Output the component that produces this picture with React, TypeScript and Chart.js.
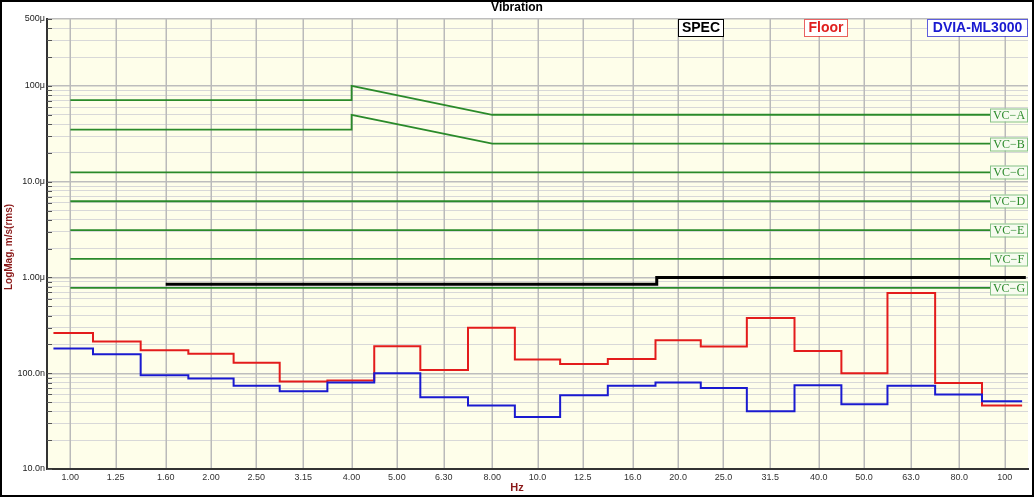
import { useEffect, useRef } from "react"
import { Chart, registerables, type Plugin } from "chart.js"

Chart.register(...registerables)

// 1/3 octave band centres (nominal) and their axis labels
const bandHz = [1, 1.25, 1.6, 2, 2.5, 3.15, 4, 5, 6.3, 8, 10, 12.5, 16, 20, 25, 31.5, 40, 50, 63, 80, 100]
const bandLabels = [
  "1.00", "1.25", "1.60", "2.00", "2.50", "3.15", "4.00", "5.00", "6.30", "8.00",
  "10.0", "12.5", "16.0", "20.0", "25.0", "31.5", "40.0", "50.0", "63.0", "80.0", "100",
]

// measured spectra, nm/s rms per band
const floorNm = [263, 214, 174, 160, 129, 82, 84, 191, 108, 299, 139, 125, 141, 221, 190, 378, 171, 100, 689, 79, 46]
const dviaNm = [181, 158, 95, 88, 74, 65, 80, 100, 56, 46, 35, 59, 74, 80, 70, 40, 75, 47.5, 74, 60, 51]
const traceStartHz = 0.92
const traceEndHz = 109

// SPEC limit, µm/s
const specHz = [1.6, 18, 111]
const specUm = [0.85, 1.0, 1.0]

// VC criteria curves, µm/s
const vcLabels = ["VC\u2212A", "VC\u2212B", "VC\u2212C", "VC\u2212D", "VC\u2212E", "VC\u2212F", "VC\u2212G"]
const vcSlopedHz = [1, 4, 4, 8, 112]
const vcAUm = [71, 71, 100, 50, 50]
const vcBUm = [35, 35, 50, 25, 25]
const vcFlatHz = [1, 112]
const vcFlatUm = [12.5, 6.25, 3.125, 1.5625, 0.78]

// y axis
const yMin = 1e-8
const yMax = 5e-4
const yMajorValues = [1e-8, 1e-7, 1e-6, 1e-5, 1e-4, 5e-4]
const yMajorLabels = ["10.0n", "100.0n", "1.00\u03bc", "10.0\u03bc", "100\u03bc", "500\u03bc"]

const legendItems = [
  { text: "SPEC", color: "#000000", left: 678, width: 45 },
  { text: "Floor", color: "#e02020", left: 804, width: 43 },
  { text: "DVIA-ML3000", color: "#1a1ad0", left: 927, width: 100 },
]

const SANS = "'Liberation Sans', Arial, sans-serif"
const GREEN = "#2a8a2a"
const DARK_RED = "#8b1a1a"

const yTicks: number[] = []
for (let e = -8; e <= -4; e++) {
  for (let m = 1; m <= 9; m++) {
    const v = m * Math.pow(10, e)
    if (v <= yMax * 1.0001) yTicks.push(v)
  }
}
const isMajor = (v: number) => yMajorValues.some((m) => Math.abs(m - v) / m < 1e-6)

const decorations: Plugin = {
  id: "decorations",
  beforeDraw(chart) {
    const { ctx, chartArea: a } = chart
    ctx.save()
    ctx.fillStyle = "#ffffff"
    ctx.fillRect(0, 0, chart.width, chart.height)
    ctx.fillStyle = "#fefeea"
    ctx.fillRect(a.left, a.top, a.right - a.left, a.bottom - a.top)
    ctx.restore()
  },
  beforeDatasetsDraw(chart) {
    const { ctx, chartArea: a } = chart
    const x = chart.scales.x
    const y = chart.scales.y
    ctx.save()
    // vertical grid at band centres
    ctx.strokeStyle = "#bababa"
    ctx.lineWidth = 1.5
    bandHz.forEach((hz) => {
      const px = Math.round(x.getPixelForValue(hz)) + 0.25
      ctx.beginPath()
      ctx.moveTo(px, a.top)
      ctx.lineTo(px, a.bottom - 1)
      ctx.stroke()
    })
    // small tick marks inside the y axis
    ctx.strokeStyle = "#555555"
    ctx.lineWidth = 1
    yTicks.forEach((v) => {
      const py = Math.round(y.getPixelForValue(v)) + 0.5
      ctx.beginPath()
      ctx.moveTo(a.left, py)
      ctx.lineTo(a.left + 5, py)
      ctx.stroke()
    })
    ctx.restore()
  },
  afterDraw(chart) {
    const { ctx, chartArea: a } = chart
    const y = chart.scales.y
    ctx.save()

    // VC labels at the right end of each criterion line
    const vcEnds = [vcAUm[vcAUm.length - 1], vcBUm[vcBUm.length - 1], ...vcFlatUm]
    ctx.font = "12px 'Liberation Serif', 'Times New Roman', serif"
    ctx.textAlign = "center"
    ctx.textBaseline = "middle"
    vcEnds.forEach((um, i) => {
      const py = Math.round(y.getPixelForValue(um * 1e-6))
      const w = 37
      const h = 13
      const bx = a.right - w - 1
      ctx.fillStyle = "#f6fbef"
      ctx.fillRect(bx, py - h / 2, w, h)
      ctx.strokeStyle = "#86c286"
      ctx.lineWidth = 1
      ctx.strokeRect(bx + 0.5, py - h / 2 + 0.5, w, h)
      ctx.fillStyle = GREEN
      ctx.fillText(vcLabels[i], bx + w / 2 + 0.5, py + 1)
    })

    // legend boxes
    ctx.font = `bold 14px ${SANS}`
    legendItems.forEach((item) => {
      ctx.fillStyle = "#ffffff"
      ctx.fillRect(item.left, a.top, item.width, 17)
      ctx.strokeStyle = item.color
      ctx.globalAlpha = item.color === "#000000" ? 1 : 0.7
      ctx.strokeRect(item.left + 0.5, a.top + 0.5, item.width, 17)
      ctx.globalAlpha = 1
      ctx.fillStyle = item.color
      ctx.fillText(item.text, item.left + item.width / 2 + 0.5, a.top + 9.5)
    })

    // title
    ctx.fillStyle = "#000000"
    ctx.font = `bold 12px ${SANS}`
    ctx.fillText("Vibration", chart.width / 2, 7.5)

    // axis titles
    ctx.fillStyle = DARK_RED
    ctx.font = `bold 11px ${SANS}`
    ctx.fillText("Hz", chart.width / 2, 488)
    ctx.translate(9, (a.top + a.bottom) / 2 + 3)
    ctx.rotate(-Math.PI / 2)
    ctx.font = `bold 10px ${SANS}`
    ctx.fillText("LogMag, m/s(rms)", 0, 0)
    ctx.setTransform(1, 0, 0, 1, 0, 0)
    ctx.scale(chart.currentDevicePixelRatio, chart.currentDevicePixelRatio)

    // outer frame
    ctx.strokeStyle = "#000000"
    ctx.lineWidth = 2
    ctx.strokeRect(1, 1, chart.width - 2, chart.height - 2)
    ctx.restore()
  },
}

function App() {
  const canvasRef = useRef<HTMLCanvasElement>(null)
  const chartRef = useRef<Chart | null>(null)

  useEffect(() => {
    if (!canvasRef.current) return
    if (chartRef.current) chartRef.current.destroy()

    const tracePoints = (values: number[]) => [
      { x: traceStartHz, y: values[0] * 1e-9 },
      ...bandHz.map((hz, i) => ({ x: hz, y: values[i] * 1e-9 })),
      { x: traceEndHz, y: values[values.length - 1] * 1e-9 },
    ]

    const vcLine = (hz: number[], um: number[]) => ({
      data: hz.map((x, i) => ({ x, y: um[i] * 1e-6 })),
      borderColor: GREEN,
      borderWidth: 1.8,
      pointRadius: 0,
    })

    chartRef.current = new Chart(canvasRef.current, {
      type: "line",
      data: {
        datasets: [
          vcLine(vcSlopedHz, vcAUm),
          vcLine(vcSlopedHz, vcBUm),
          ...vcFlatUm.map((um) => vcLine(vcFlatHz, [um, um])),
          {
            data: specHz.map((x, i) => ({ x, y: specUm[i] * 1e-6 })),
            borderColor: "#000000",
            borderWidth: 3,
            pointRadius: 0,
            stepped: "before",
          },
          {
            data: tracePoints(dviaNm),
            borderColor: "#1a1ad0",
            borderWidth: 2,
            pointRadius: 0,
            stepped: "middle",
          },
          {
            data: tracePoints(floorNm),
            borderColor: "#e31c1c",
            borderWidth: 2,
            pointRadius: 0,
            stepped: "middle",
          },
        ] as any,
      },
      options: {
        animation: false,
        responsive: true,
        maintainAspectRatio: false,
        events: [],
        layout: { padding: { left: 0, right: 6, top: 19, bottom: 0 } },
        plugins: {
          legend: { display: false },
          tooltip: { enabled: false },
          title: { display: false },
        },
        scales: {
          x: {
            type: "logarithmic",
            min: Math.pow(10, -0.05),
            max: Math.pow(10, 2.05),
            bounds: "data",
            afterBuildTicks: (scale) => {
              scale.ticks = bandHz.map((value) => ({ value }))
            },
            afterFit: (scale) => {
              scale.height = 28
            },
            ticks: {
              autoSkip: false,
              maxRotation: 0,
              padding: 3,
              color: "#333333",
              font: { family: SANS, size: 9 },
              callback: (_v, i) => bandLabels[i],
            },
            grid: { display: false, drawTicks: false },
            border: { color: "#333333", width: 2 },
          },
          y: {
            type: "logarithmic",
            min: yMin,
            max: yMax,
            bounds: "data",
            afterBuildTicks: (scale) => {
              scale.ticks = yTicks.map((value) => ({ value, major: isMajor(value) }))
            },
            afterFit: (scale) => {
              scale.width = 47
            },
            ticks: {
              autoSkip: false,
              padding: 2,
              color: "#222222",
              font: { family: SANS, size: 9 },
              callback: (v) => {
                const idx = yMajorValues.findIndex((m) => Math.abs(m - Number(v)) / m < 1e-6)
                return idx >= 0 ? yMajorLabels[idx] : ""
              },
            },
            grid: {
              drawTicks: false,
              color: (c) => (isMajor(c.tick.value) ? "#bdbdbd" : "#d8d8d8"),
              lineWidth: (c) => (isMajor(c.tick.value) ? 1.4 : 1),
            },
            border: { color: "#333333", width: 2 },
          },
        },
      },
      plugins: [decorations],
    })

    return () => {
      if (chartRef.current) {
        chartRef.current.destroy()
        chartRef.current = null
      }
    }
  }, [])

  return (
    <div style={{ position: "absolute", left: 0, top: 0, width: 1034, height: 497 }}>
      <canvas ref={canvasRef} />
    </div>
  )
}

export default App
